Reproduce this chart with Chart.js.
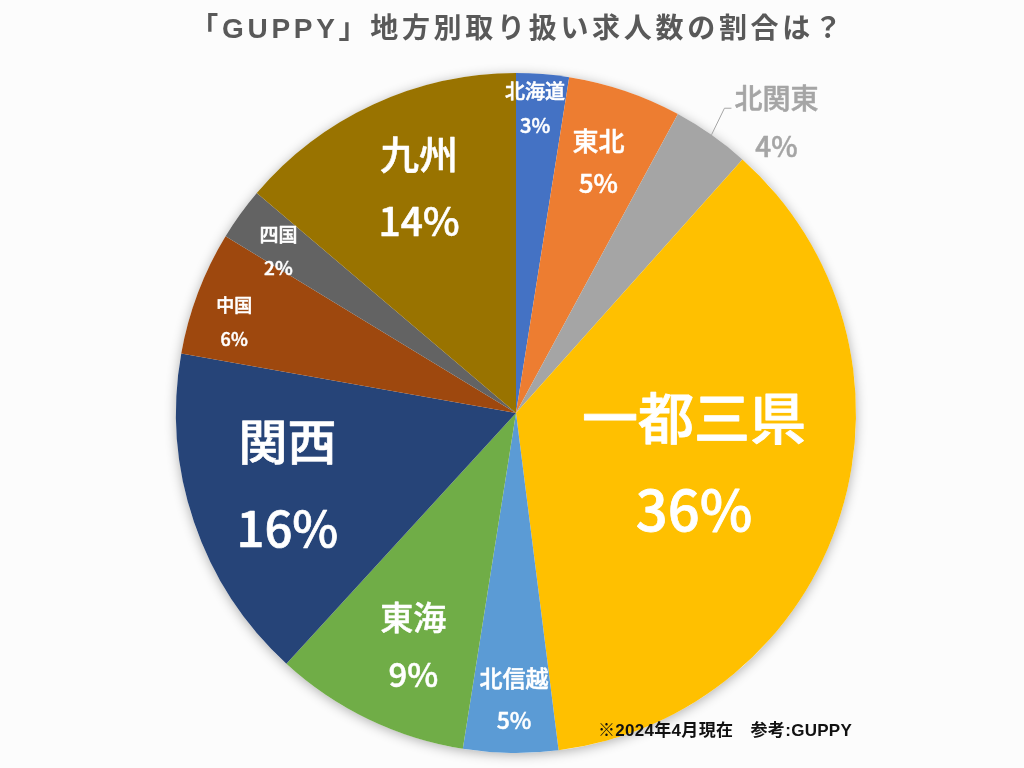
<!DOCTYPE html>
<html lang="ja">
<head>
<meta charset="utf-8">
<title>GUPPY 地方別取り扱い求人数の割合</title>
<script src="https://cdn.jsdelivr.net/npm/chart.js@4"></script>
<style>
  html, body { margin: 0; padding: 0; background: #fcfcfc; }
  #wrap { width: 1024px; height: 768px; position: relative; }
</style>
</head>
<body>
<div id="wrap"><canvas id="pie" width="1024" height="768"></canvas></div>
<script>
const regions = ["北海道", "東北", "北関東", "一都三県", "北信越", "東海", "関西", "中国", "四国", "九州"];
const shares = [2.5, 5.4, 3.7, 36.4, 4.5, 9.3, 16, 5.9, 2.5, 13.8];
const shareLabels = ["3%", "5%", "4%", "36%", "5%", "9%", "16%", "6%", "2%", "14%"];
const sliceColors = ["#4472c4", "#ed7d31", "#a5a5a5", "#ffc000", "#5b9bd5", "#70ad47", "#264478", "#9e480e", "#636363", "#997300"];

// label placement, relative to each slice
const labelRadius = [0.895, 0.775, 1.147, 0.545, 0.842, 0.75, 0.705, 0.87, 0.845, 0.72];
const labelTurn = [-0.9, -0.5, 6.8, -1.2, -0.5, -2.0, 1.2, -3, -1.6, 1.5];
const labelSize = [20, 26, 28, 56, 23, 33, 49, 18, 19, 39];
const labelGap = [34, 42, 48, 92, 42, 57, 87, 34, 33, 67];

const FONT = '"Noto Sans CJK JP", "Noto Sans", sans-serif';
const HEAD_FONT = '"Liberation Sans", "Noto Sans CJK JP", sans-serif';

const pieShadow = {
  id: "pieShadow",
  beforeDatasetsDraw(chart) {
    const arc = chart.getDatasetMeta(0).data[0];
    const ctx = chart.ctx;
    ctx.save();
    ctx.shadowColor = "rgba(0,0,0,0.3)";
    ctx.shadowBlur = 12;
    ctx.shadowOffsetY = 2;
    ctx.fillStyle = "#ffffff";
    ctx.beginPath();
    ctx.arc(arc.x, arc.y, arc.outerRadius, 0, Math.PI * 2);
    ctx.fill();
    ctx.restore();
  },
};

const pieLabels = {
  id: "pieLabels",
  afterDatasetsDraw(chart) {
    const ctx = chart.ctx;
    ctx.save();
    ctx.textAlign = "center";
    ctx.textBaseline = "middle";
    ctx.lineJoin = "round";

    const heavyText = (text, x, y, size) => {
      // no medium weight installed, so thicken the regular one a little
      ctx.lineWidth = Math.max(0.5, size * 0.014);
      ctx.strokeStyle = ctx.fillStyle;
      ctx.strokeText(text, x, y);
      ctx.fillText(text, x, y);
    };

    chart.getDatasetMeta(0).data.forEach((arc, i) => {
      const mid = (arc.startAngle + arc.endAngle) / 2;
      const angle = mid + (labelTurn[i] * Math.PI) / 180;
      const x = arc.x + Math.cos(angle) * arc.outerRadius * labelRadius[i];
      const y = arc.y + Math.sin(angle) * arc.outerRadius * labelRadius[i] - 0.5;
      const outside = labelRadius[i] > 1;

      ctx.fillStyle = outside ? "#a5a5a5" : "#ffffff";
      ctx.font = `500 ${labelSize[i]}px ${FONT}`;
      heavyText(regions[i], x, y - labelGap[i] / 2, labelSize[i]);
      heavyText(shareLabels[i], x, y + labelGap[i] / 2, labelSize[i]);

      if (outside) {
        // leader line for the label outside the pie
        const nameY = y - labelGap[i] / 2;
        ctx.strokeStyle = "#a5a5a5";
        ctx.lineWidth = 1;
        ctx.beginPath();
        ctx.moveTo(arc.x + Math.cos(mid) * arc.outerRadius, arc.y + Math.sin(mid) * arc.outerRadius);
        ctx.lineTo(x - 52, nameY + 10);
        ctx.lineTo(x - 45, nameY + 10);
        ctx.stroke();
      }
    });

    // title and source note
    ctx.fillStyle = "#595959";
    ctx.font = `bold 28px ${HEAD_FONT}`;
    ctx.letterSpacing = "3.7px";
    ctx.fillText("「GUPPY」地方別取り扱い求人数の割合は？", 518, 30);

    ctx.fillStyle = "#111111";
    ctx.font = `bold 17px ${HEAD_FONT}`;
    ctx.letterSpacing = "0.3px";
    ctx.textAlign = "left";
    ctx.fillText("※2024年4月現在　参考:GUPPY", 598, 731);
    ctx.restore();
  },
};

new Chart(document.getElementById("pie"), {
  type: "pie",
  data: {
    labels: regions,
    datasets: [
      {
        data: shares,
        backgroundColor: sliceColors,
        borderWidth: 0,
      },
    ],
  },
  options: {
    responsive: false,
    animation: false,
    layout: { padding: { left: 175, right: 167, top: 73, bottom: 15 } },
    plugins: { legend: { display: false }, tooltip: { enabled: false } },
  },
  plugins: [pieShadow, pieLabels],
});
</script>
</body>
</html>
